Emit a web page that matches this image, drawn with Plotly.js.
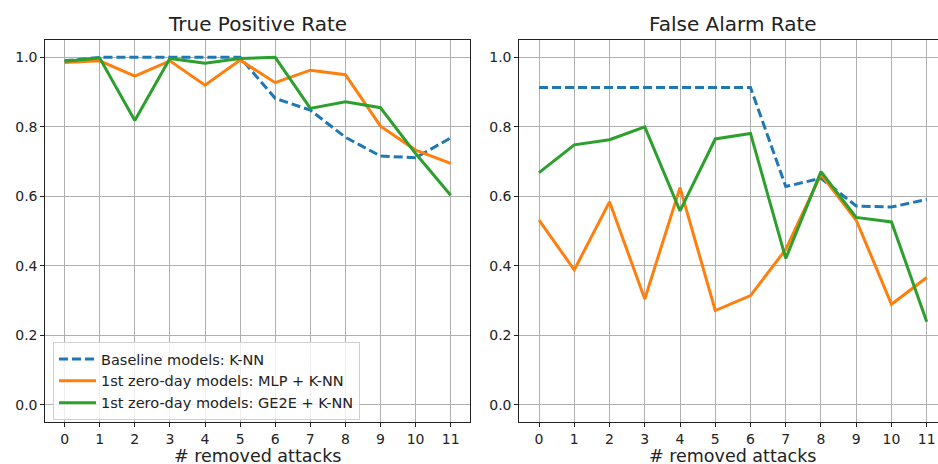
<!DOCTYPE html>
<html>
<head>
<meta charset="utf-8">
<script src="https://cdn.plot.ly/plotly-3.0.1.min.js"></script>
<style>html,body{margin:0;padding:0;background:#fff;}#chart{width:938px;height:464px;}</style>
</head>
<body>
<div id="chart"></div>
<script>
// ---- data ----
const removedAttacks = [0,1,2,3,4,5,6,7,8,9,10,11];
const seriesNames = ["Baseline models: K-NN", "1st zero-day models: MLP + K-NN", "1st zero-day models: GE2E + K-NN"];
const tprBaseline = [0.990, 1.000, 1.000, 1.000, 1.000, 1.000, 0.882, 0.848, 0.770, 0.716, 0.711, 0.768];
const tprMLP      = [0.985, 0.990, 0.946, 0.990, 0.920, 0.992, 0.927, 0.963, 0.950, 0.802, 0.733, 0.695];
const tprGE2E     = [0.989, 0.998, 0.818, 0.997, 0.983, 0.997, 1.000, 0.853, 0.872, 0.855, 0.723, 0.603];
const farBaseline = [0.913, 0.913, 0.913, 0.913, 0.913, 0.913, 0.913, 0.628, 0.652, 0.572, 0.569, 0.591];
const farMLP      = [0.531, 0.388, 0.584, 0.304, 0.625, 0.271, 0.314, 0.447, 0.663, 0.531, 0.289, 0.366];
const farGE2E     = [0.668, 0.748, 0.763, 0.800, 0.558, 0.765, 0.781, 0.421, 0.671, 0.539, 0.526, 0.239];
const panelTitles = ["True Positive Rate", "False Alarm Rate"];
const xLabel = "# removed attacks";
const yTicks = [0.0, 0.2, 0.4, 0.6, 0.8, 1.0];

// ---- styling ----
const colors = ["#1f77b4", "#ff7f0e", "#2ca02c"];
const dashes = ["9px,4px", "solid", "solid"];
const font = "DejaVu Sans, sans-serif";
const W = 938, H = 464;

function mk(x, y, i, xa, ya, show) {
  return {x: x, y: y, type: "scatter", mode: "lines", name: seriesNames[i],
    xaxis: xa, yaxis: ya, showlegend: show, legendgroup: "g" + i,
    line: {color: colors[i], width: 3, dash: dashes[i]}, hoverinfo: "skip"};
}
const traces = [
  mk(removedAttacks, tprBaseline, 0, "x", "y", true),
  mk(removedAttacks, tprMLP, 1, "x", "y", true),
  mk(removedAttacks, tprGE2E, 2, "x", "y", true),
  mk(removedAttacks, farBaseline, 0, "x2", "y2", false),
  mk(removedAttacks, farMLP, 1, "x2", "y2", false),
  mk(removedAttacks, farGE2E, 2, "x2", "y2", false)
];

const axBase = {
  showgrid: true, gridcolor: "#b0b0b0", gridwidth: 1, zeroline: false,
  showline: true, linecolor: "#222", linewidth: 1,
  ticks: "outside", ticklen: 4, tickwidth: 1, tickcolor: "#222",
  tickfont: {family: font, size: 14, color: "#222"}
};
const xTickText = removedAttacks.map(String);
const L = {
  width: W, height: H, paper_bgcolor: "#fff", plot_bgcolor: "#fff",
  margin: {l: 0, r: 0, t: 0, b: 0},
  showlegend: true,
  font: {family: font, color: "#222"},
  xaxis: Object.assign({}, axBase, {domain: [45.3 / W, 470 / W], range: [-0.55, 11.55], tickvals: removedAttacks, ticktext: xTickText, mirror: true, anchor: "y"}),
  yaxis: Object.assign({}, axBase, {domain: [1 - 422 / H, 1 - 40 / H], range: [-0.05, 1.05], tickvals: yTicks, tickformat: ".1f", mirror: true, anchor: "x"}),
  xaxis2: Object.assign({}, axBase, {domain: [519.3 / W, 1], range: [-0.56, 11.32], tickvals: removedAttacks, ticktext: xTickText, mirror: true, anchor: "y2"}),
  yaxis2: Object.assign({}, axBase, {domain: [1 - 422 / H, 1 - 40 / H], range: [-0.05, 1.05], tickvals: yTicks, tickformat: ".1f", anchor: "x2"}),
  legend: {x: 53 / W, y: 1 - 342 / H, xanchor: "left", yanchor: "top",
    bgcolor: "rgba(255,255,255,0.8)", bordercolor: "#d0d0d0", borderwidth: 1,
    font: {family: font, size: 14.5, color: "#222"}, itemwidth: 37, tracegroupgap: 0},
  annotations: [
    {text: panelTitles[0], xref: "paper", yref: "paper", x: 257.6 / W, y: 1 - 24 / H, xanchor: "center", yanchor: "middle", showarrow: false, font: {family: font, size: 20, color: "#222"}},
    {text: panelTitles[1], xref: "paper", yref: "paper", x: 732.8 / W, y: 1 - 24 / H, xanchor: "center", yanchor: "middle", showarrow: false, font: {family: font, size: 20, color: "#222"}},
    {text: xLabel, xref: "paper", yref: "paper", x: 257.6 / W, y: -4 / H, xanchor: "center", yanchor: "bottom", showarrow: false, font: {family: font, size: 17.5, color: "#222"}},
    {text: xLabel, xref: "paper", yref: "paper", x: 732.8 / W, y: -4 / H, xanchor: "center", yanchor: "bottom", showarrow: false, font: {family: font, size: 17.5, color: "#222"}}
  ]
};
Plotly.newPlot("chart", traces, L, {staticPlot: true, displayModeBar: false});
</script>
</body>
</html>
